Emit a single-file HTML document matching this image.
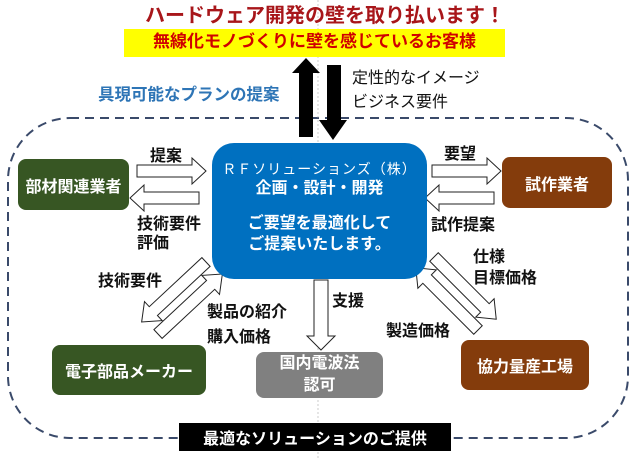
<!DOCTYPE html>
<html><head><meta charset="utf-8"><style>
html,body{margin:0;padding:0;background:#fff;}
body{width:636px;height:460px;position:relative;overflow:hidden;font-family:"Liberation Sans","Noto Sans CJK JP",sans-serif;}
.t{position:absolute;white-space:nowrap;font-weight:bold;line-height:1.2;font-size:16px;color:#111;}
.box{position:absolute;color:#fff;font-weight:bold;display:flex;align-items:center;justify-content:center;text-align:center;font-size:16px;}
</style></head><body>
<svg width="636" height="460" style="position:absolute;left:0;top:0">
  <rect x="8" y="118" width="620" height="320" rx="62" ry="62" fill="none" stroke="#3a4a6a" stroke-width="2" stroke-dasharray="9,6"/>
  <line x1="318" y1="0" x2="318" y2="460" stroke="#aaa" stroke-width="0.6" stroke-dasharray="2,2"/>
  <rect x="124" y="29" width="381" height="28" fill="#ffff00"/>
  <polygon points="299,137 313,137 313,73 320,73 306,58 292,73 299,73" fill="#000"/>
  <polygon points="327,65 341,65 341,120 347,120 333,140 319,120 327,120" fill="#000"/>
  <g fill="#fff" stroke="#222" stroke-width="1">
    <polygon points="0,-6 55,-6 55,-13 69,0 55,13 55,6 0,6" transform="translate(137,171)"/>
    <polygon points="0,-6 55,-6 55,-13 69,0 55,13 55,6 0,6" transform="translate(199,198) rotate(180)"/>
    <polygon points="0,-6 55,-6 55,-13 69,0 55,13 55,6 0,6" transform="translate(432,171)"/>
    <polygon points="0,-6 55,-6 55,-13 69,0 55,13 55,6 0,6" transform="translate(494,198) rotate(180)"/>
    <polygon points="0,-7 56,-7 56,-14 70,0 56,14 56,7 0,7" transform="translate(321,280) rotate(90)"/>
    <polygon points="0,-6 72,-6 72,-13 88,0 72,13 72,6 0,6" transform="translate(206,262) rotate(137)"/>
    <polygon points="0,-6 72,-6 72,-13 88,0 72,13 72,6 0,6" transform="translate(158,334) rotate(-43)"/>
    <polygon points="0,-6 72,-6 72,-13 88,0 72,13 72,6 0,6" transform="translate(434,257) rotate(45)"/>
    <polygon points="0,-6 72,-6 72,-13 88,0 72,13 72,6 0,6" transform="translate(478,330) rotate(-135)"/>
  </g>
</svg>
<div class="t" style="left:125px;width:400px;text-align:center;top:4px;font-size:20px;color:#a8161a;">ハードウェア開発の壁を取り払います！</div>
<div class="t" style="left:124px;width:381px;text-align:center;top:32px;font-size:17px;color:#d00000;">無線化モノづくりに壁を感じているお客様</div>
<div class="t" style="left:98px;top:86px;font-size:16.5px;color:#2e75b6;">具現可能なプランの提案</div>
<div class="t" style="left:352px;top:67px;font-weight:normal;line-height:24px;">定性的なイメージ<br>ビジネス要件</div>
<div class="box" style="left:212px;top:143px;width:215px;height:136px;border-radius:22px;background:#0070c0;flex-direction:column;justify-content:flex-start;">
  <div style="margin-top:18px;font-size:14px;font-weight:normal;letter-spacing:1px;line-height:16px;">ＲＦソリューションズ（株）</div>
  <div style="margin-top:2px;line-height:20px;">企画・設計・開発</div>
  <div style="margin-top:14px;line-height:21px;">ご要望を最適化して<br>ご提案いたします。</div>
</div>
<div class="box" style="left:18px;top:159px;width:111px;height:51px;border-radius:8px;background:#375623;">部材関連業者</div>
<div class="box" style="left:502px;top:157px;width:110px;height:51px;border-radius:8px;background:#843c0c;">試作業者</div>
<div class="box" style="left:52px;top:345px;width:154px;height:50px;border-radius:8px;background:#375623;">電子部品メーカー</div>
<div class="box" style="left:256px;top:352px;width:127px;height:46px;border-radius:8px;background:#808080;line-height:22px;">国内電波法<br>認可</div>
<div class="box" style="left:461px;top:340px;width:128px;height:50px;border-radius:8px;background:#843c0c;">協力量産工場</div>
<div class="box" style="left:179px;top:423px;width:272px;height:28px;background:#000;">最適なソリューションのご提供</div>
<div class="t" style="left:150px;top:147px;">提案</div>
<div class="t" style="left:137px;top:215px;line-height:19px;">技術要件<br>評価</div>
<div class="t" style="left:98px;top:272px;">技術要件</div>
<div class="t" style="left:207px;top:300px;line-height:25px;">製品の紹介<br>購入価格</div>
<div class="t" style="left:332px;top:292px;">支援</div>
<div class="t" style="left:444px;top:145px;">要望</div>
<div class="t" style="left:431px;top:216px;">試作提案</div>
<div class="t" style="left:473px;top:247px;line-height:21px;">仕様<br>目標価格</div>
<div class="t" style="left:386px;top:322px;">製造価格</div>
</body></html>
